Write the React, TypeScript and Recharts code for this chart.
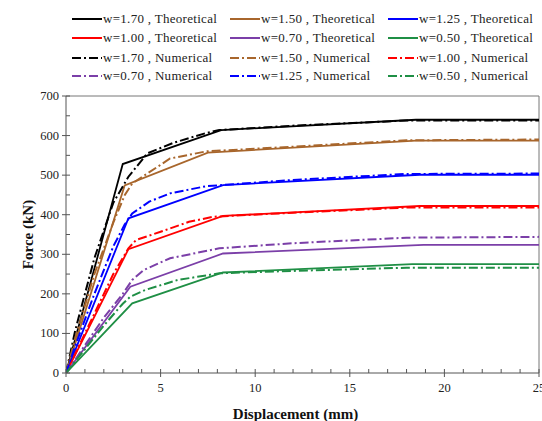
import { LineChart, Line, XAxis, YAxis, ReferenceLine } from "recharts";

type Pt = [number, number];

// theoretical curves
const w170Theo: Pt[] = [[0, 0], [3.0, 528], [8.2, 614], [18.5, 640], [25, 640]];
const w150Theo: Pt[] = [[0, 0], [3.1, 474], [7.5, 557], [18.5, 587], [25, 587]];
const w125Theo: Pt[] = [[0, 0], [3.3, 391], [8.3, 475], [18.7, 501], [25, 501]];
const w100Theo: Pt[] = [[0, 0], [3.3, 313], [8.3, 397], [18.7, 422], [25, 422]];
const w070Theo: Pt[] = [[0, 0], [3.4, 218], [8.3, 302], [18.9, 324], [25, 324]];
const w050Theo: Pt[] = [[0, 0], [3.5, 176], [8.3, 254], [18.3, 275], [25, 275]];

// numerical curves
const w170Num: Pt[] = [[0, 0], [0.5, 110], [1.5, 290], [2.5, 430], [3.3, 496], [4.3, 555], [5.7, 582], [7.3, 605], [8.1, 614], [12, 625], [18, 638], [25, 638]];
const w150Num: Pt[] = [[0, 0], [0.5, 90], [1.5, 250], [2.5, 380], [3.1, 449], [3.5, 479], [5.5, 542], [7.4, 560], [12, 572], [18, 588], [25, 590]];
const w125Num: Pt[] = [[0, 0], [0.5, 70], [1.5, 200], [2.5, 320], [3.1, 375], [3.5, 403], [4.4, 433], [5.5, 454], [7.4, 472], [12, 488], [18, 503], [25, 504]];
const w100Num: Pt[] = [[0, 0], [0.7, 70], [1.5, 150], [2.5, 250], [3.3, 315], [3.7, 336], [5.0, 357], [6.5, 382], [7.8, 395], [12, 405], [18, 418], [25, 418]];
const w070Num: Pt[] = [[0, 0], [1, 70], [2, 140], [3.0, 200], [3.5, 235], [4.1, 260], [5.5, 290], [8.1, 315], [12, 328], [18, 342], [25, 344]];
const w050Num: Pt[] = [[0, 0], [1, 60], [2, 120], [3.0, 175], [3.4, 193], [4.2, 210], [5.9, 235], [8.1, 252], [12, 258], [18, 266], [25, 266]];

const xTicks = Array.from({ length: 26 }, (_, i) => i);
const yTicks = Array.from({ length: 15 }, (_, i) => i * 50);

const BLACK = "#000000";
const BROWN = "#a8662c";
const BLUE = "#0000ff";
const RED = "#ff0000";
const PURPLE = "#7b3fa8";
const GREEN = "#1f8f45";

interface Series {
  name: string;
  color: string;
  data: Pt[];
  dashed: boolean;
}

// legend order, row by row
const series: Series[] = [
  { name: "w=1.70 , Theoretical", color: BLACK, data: w170Theo, dashed: false },
  { name: "w=1.50 , Theoretical", color: BROWN, data: w150Theo, dashed: false },
  { name: "w=1.25 , Theoretical", color: BLUE, data: w125Theo, dashed: false },
  { name: "w=1.00 , Theoretical", color: RED, data: w100Theo, dashed: false },
  { name: "w=0.70 , Theoretical", color: PURPLE, data: w070Theo, dashed: false },
  { name: "w=0.50 , Theoretical", color: GREEN, data: w050Theo, dashed: false },
  { name: "w=1.70 , Numerical", color: BLACK, data: w170Num, dashed: true },
  { name: "w=1.50 , Numerical", color: BROWN, data: w150Num, dashed: true },
  { name: "w=1.00 , Numerical", color: RED, data: w100Num, dashed: true },
  { name: "w=0.70 , Numerical", color: PURPLE, data: w070Num, dashed: true },
  { name: "w=1.25 , Numerical", color: BLUE, data: w125Num, dashed: true },
  { name: "w=0.50 , Numerical", color: GREEN, data: w050Num, dashed: true },
];

const DASH = "9 3 2 3";
const FONT = "Times New Roman, Liberation Serif, DejaVu Serif, serif";
const AXIS = "#555";

function YTick(props: any) {
  const { x, y, payload } = props;
  const major = payload.value % 100 === 0;
  return (
    <g>
      <line x1={major ? x - 4 : x} x2={x + 4} y1={y} y2={y} stroke={AXIS} />
      {major && (
        <text x={x - 7} y={y + 4} textAnchor="end" fontSize={12.5} fontFamily={FONT} fill="#222">
          {payload.value}
        </text>
      )}
    </g>
  );
}

function XTick(props: any) {
  const { x, y, payload } = props;
  const major = payload.value % 5 === 0;
  return (
    <g>
      <line x1={x} x2={x} y1={y - 4} y2={major ? y + 4 : y} stroke={AXIS} />
      {major && (
        <text x={x} y={y + 19} textAnchor="middle" fontSize={12.5} fontFamily={FONT} fill="#222">
          {payload.value}
        </text>
      )}
    </g>
  );
}

function LegendBlock() {
  const rows = [19, 38, 58, 76];
  const cols = [72, 230, 388];
  return (
    <>
      {series.map((s, i) => {
        const top = rows[Math.floor(i / 3)];
        const left = cols[i % 3];
        return (
          <div
            key={s.name}
            style={{
              position: "absolute",
              left,
              top: top - 8,
              height: 16,
              display: "flex",
              alignItems: "center",
              fontFamily: FONT,
              fontSize: 13,
              letterSpacing: 0.3,
              color: "#222",
              whiteSpace: "nowrap",
            }}
          >
            <svg width={30} height={6} style={{ marginRight: 1 }}>
              <line x1={0} x2={30} y1={3} y2={3} stroke={s.color} strokeWidth={2} strokeDasharray={s.dashed ? DASH : undefined} />
            </svg>
            {s.name}
          </div>
        );
      })}
    </>
  );
}

export default function App() {
  return (
    <div style={{ position: "absolute", left: 0, top: 0, width: 542, height: 421, background: "#fff" }}>
      <LineChart width={542} height={421} margin={{ top: 96, right: 3, bottom: 0, left: 0 }}>
        <XAxis
          type="number"
          dataKey="x"
          domain={[0, 25]}
          ticks={xTicks}
          interval={0}
          tickSize={0}
          tickMargin={0}
          tickLine={false}
          tick={<XTick />}
          height={48}
          stroke={AXIS}
          allowDataOverflow
          label={{ value: "Displacement (mm)", position: "insideBottom", offset: 2, dx: -7, style: { fontFamily: FONT, fontWeight: "bold", fontSize: 15, fill: "#111" } }}
        />
        <YAxis
          type="number"
          domain={[0, 700]}
          ticks={yTicks}
          interval={0}
          tickSize={0}
          tickMargin={0}
          tickLine={false}
          tick={<YTick />}
          width={66}
          stroke={AXIS}
          allowDataOverflow
          label={{ value: "Force (kN)", angle: -90, position: "insideLeft", offset: 12, dx: 16, style: { textAnchor: "middle", fontFamily: FONT, fontWeight: "bold", fontSize: 15, fill: "#111" } }}
        />
        <ReferenceLine y={700} stroke="#777" />
        <ReferenceLine x={25} stroke="#777" />
        {series.map((s) => (
          <Line
            key={s.name}
            data={s.data.map(([x, y]) => ({ x, y }))}
            dataKey="y"
            name={s.name}
            type="linear"
            stroke={s.color}
            strokeWidth={s.dashed ? 2 : 1.8}
            strokeDasharray={s.dashed ? DASH : undefined}
            dot={false}
            isAnimationActive={false}
          />
        ))}
      </LineChart>
      <LegendBlock />
    </div>
  );
}
